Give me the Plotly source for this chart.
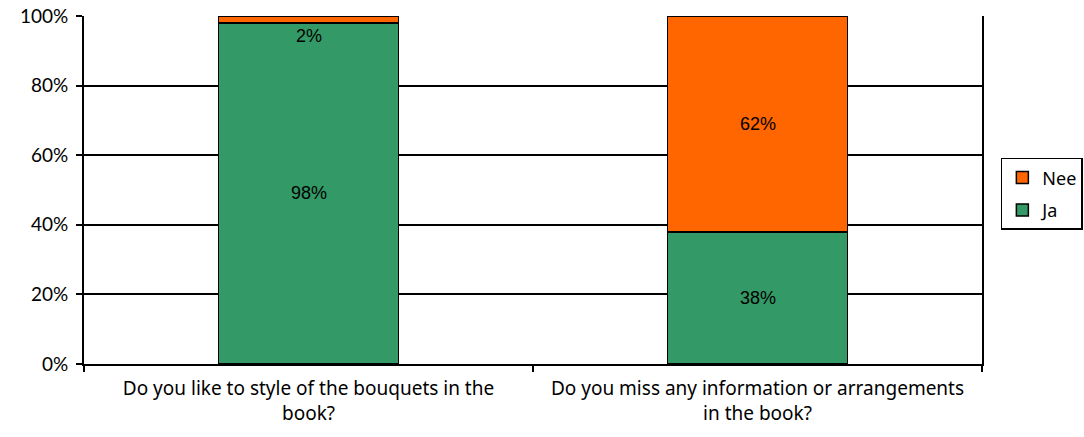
import plotly.graph_objects as go

categories = [
    "Do you like to style of the bouquets in the<br>book?",
    "Do you miss any information or arrangements<br>in the book?",
]
ja_values = [98, 38]
nee_values = [2, 62]
y_ticks = [0, 20, 40, 60, 80, 100]
y_tick_labels = ["0%", "20%", "40%", "60%", "80%", "100%"]

GREEN = "#339966"
ORANGE = "#FF6600"

fig = go.Figure()
fig.add_trace(go.Bar(
    name="Ja", x=categories, y=ja_values, legendgroup="ja", legendrank=2,
    marker=dict(color=GREEN, line=dict(color="black", width=1.5)),
))
fig.add_trace(go.Bar(
    name="Nee", x=categories, y=nee_values, legendgroup="nee", legendrank=1,
    marker=dict(color=ORANGE, line=dict(color="black", width=1.5)),
))

label_font = dict(family="Liberation Sans, Arial", size=18, color="black")
annotations = []
for cat, ja, nee in zip(categories, ja_values, nee_values):
    for base, v in ((0, ja), (ja, nee)):
        if v >= 5:
            annotations.append(dict(x=cat, y=base + v / 2, text=f"{v}%",
                                    showarrow=False, yanchor="middle", font=label_font))
        else:
            annotations.append(dict(x=cat, y=base + v, text=f"{v}%",
                                    showarrow=False, yanchor="top", yshift=-8, font=label_font))

fig.update_layout(
    barmode="stack",
    bargap=0.6,
    width=1084, height=437,
    margin=dict(l=84, r=102, t=16, b=73, autoexpand=False),
    paper_bgcolor="white", plot_bgcolor="white",
    annotations=annotations,
    showlegend=True,
    legend=dict(
        traceorder="grouped",
        x=1.021, xanchor="left", y=0.489, yanchor="middle",
        bordercolor="black", borderwidth=1.5,
        font=dict(family="Noto Sans", size=18, color="black"),
        itemwidth=30, tracegroupgap=6,
    ),
    xaxis=dict(
        showline=True, linecolor="black", linewidth=2,
        ticks="outside", tickson="boundaries", ticklen=6, tickwidth=2, tickcolor="black",
        tickfont=dict(family="Noto Sans", size=19, color="black"),
        ticklabelstandoff=6,
        showgrid=False, automargin=False,
    ),
    yaxis=dict(
        range=[0, 100],
        tickvals=y_ticks, ticktext=y_tick_labels,
        showline=True, linecolor="black", linewidth=2, mirror=True,
        ticks="outside", ticklen=6, tickwidth=2, tickcolor="black",
        showgrid=True, gridcolor="black", gridwidth=2,
        tickfont=dict(family="Lato, Noto Sans", size=19, color="black"),
        ticklabelstandoff=4,
        zeroline=False, automargin=False,
    ),
)

fig.write_html("out.html")
